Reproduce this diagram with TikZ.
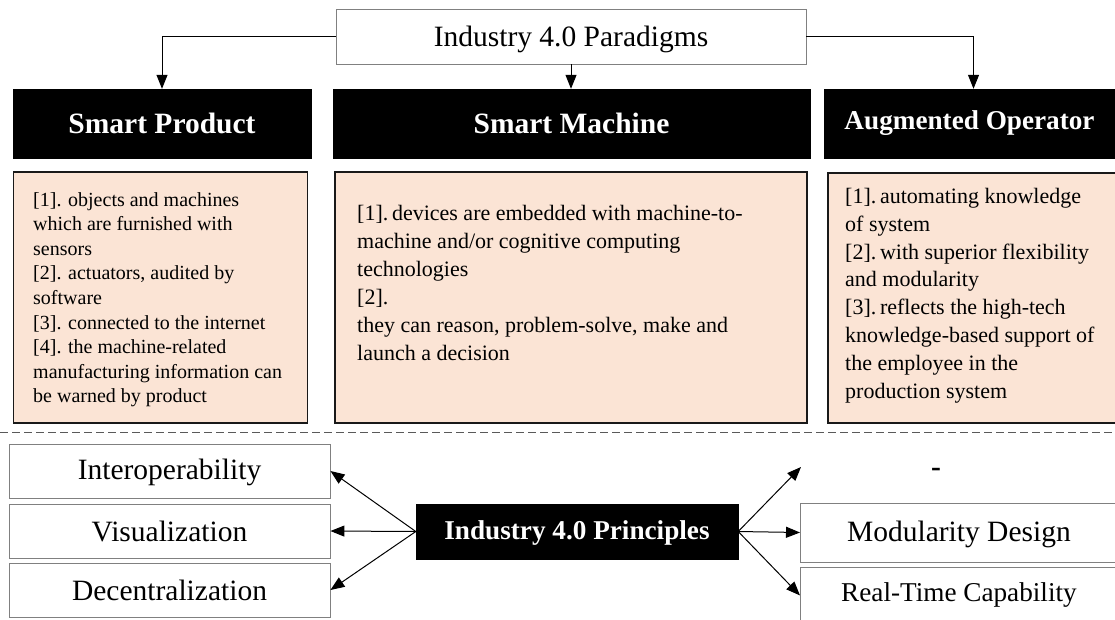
\documentclass[tikz,border=0pt]{standalone}
\usepackage{fontspec}
\setmainfont{Liberation Serif}
\usetikzlibrary{arrows.meta}
\definecolor{peach}{HTML}{FBE4D5}
\definecolor{framegray}{HTML}{808080}
\begin{document}
\begin{tikzpicture}[x=1pt,y=-1pt,
  wbox/.style={draw=framegray,line width=0.9pt,fill=white,inner sep=0pt,font=\fontsize{29.5}{34}\selectfont},
  bbox/.style={draw=black,fill=black,text=white,inner sep=0pt,font=\bfseries\fontsize{29.5}{34}\selectfont},
  pbox/.style={draw=black!90,fill=peach,line width=1.8pt,inner sep=0pt},
  ptext/.style={anchor=north west,inner sep=0pt,align=left},
  arr/.style={-{Triangle[length=14pt,width=11pt]},line width=1pt},
  dashline/.style={draw=black!65,line width=1.2pt,dash pattern=on 8pt off 4pt}]
\useasboundingbox (0,0) rectangle (1115,619);
\fill[white] (0,0) rectangle (1115,619);

% top
\node[wbox,minimum width=470pt,minimum height=55pt,text depth=1pt] (top) at (571,36.5) {Industry 4.0 Paradigms};
\node[bbox,minimum width=298pt,minimum height=69pt] (sp) at (162,123.5) {Smart Product};
\node[bbox,minimum width=477pt,minimum height=69pt] (sm) at (571.5,123.5) {Smart Machine};
\node[bbox,font=\bfseries\fontsize{27.2}{32}\selectfont,minimum width=291pt,minimum height=69pt] (ao) at (969.5,123.5) {Augmented Operator};

\draw[arr] (top.west) -| (sp.north);
\draw[arr] (top.south) -- (top.south |- sm.north);
\draw[arr] (top.east) -| ([xshift=4pt]ao.north);

% pink boxes
\node[pbox,minimum width=294pt,minimum height=251pt] (pb1) at (160.5,297.5) {};
\node[pbox,minimum width=472pt,minimum height=251pt] (pb2) at (571,297.5) {};
\node[pbox,minimum width=292pt,minimum height=250pt,anchor=north west] (pb3) at (827,172) {};

\node[ptext,font=\fontsize{20}{24.6}\selectfont] (t1) at (33,192) {[1]. objects and machines\\ which are furnished with\\ sensors\\{}[2]. actuators, audited by\\ software\\{}[3]. connected to the internet\\{}[4]. the machine-related\\ manufacturing information can\\ be warned by product};
\node[ptext,font=\fontsize{22}{28}\selectfont] (t2) at (357,205) {[1].\,devices are embedded with machine-to-\\ machine and/or cognitive computing\\ technologies\\{}[2].\\ they can reason, problem-solve, make and\\ launch a decision};
\node[ptext,font=\fontsize{22}{27.8}\selectfont] (t3) at (845,188) {[1].\,automating knowledge\\ of system\\{}[2].\,with superior flexibility\\ and modularity\\{}[3].\,reflects the high-tech\\ knowledge-based support of\\ the employee in the\\ production system};

% separator
\draw[dashline] (0,432.5) -- (1115,432.5);

% bottom
\node[wbox,minimum width=321pt,minimum height=54pt,text depth=3pt] (io) at (169.5,471) {Interoperability};
\node[wbox,minimum width=321pt,minimum height=54pt] (vis) at (169.5,531) {Visualization};
\node[wbox,minimum width=321pt,minimum height=54pt] (dec) at (169.5,590) {Decentralization};
\node[bbox,font=\bfseries\fontsize{27.2}{32}\selectfont,minimum width=322pt,minimum height=55pt,text depth=2pt] (prin) at (577,531.5) {Industry 4.0 Principles};
\node[wbox,minimum width=317pt,minimum height=59pt,anchor=west,text depth=3pt] (mod) at (800,532.5) {Modularity Design};
\node[wbox,font=\fontsize{27.2}{32}\selectfont,minimum width=317pt,minimum height=56pt,anchor=north west] (rt) at (800,567) {Real-Time Capability};
\coordinate (dtip) at (801,467);
\node[font=\bfseries\fontsize{29.5}{34}\selectfont,inner sep=0pt] (hy) at (936,472) {-};

\draw[arr] (prin.west) -- (io.east);
\draw[arr] (prin.west) -- (vis.east);
\draw[arr] (prin.west) -- (dec.east);
\draw[arr] (prin.east) -- (dtip);
\draw[arr] (prin.east) -- (mod.west);
\draw[arr] (prin.east) -- (rt.west);
\end{tikzpicture}
\end{document}
